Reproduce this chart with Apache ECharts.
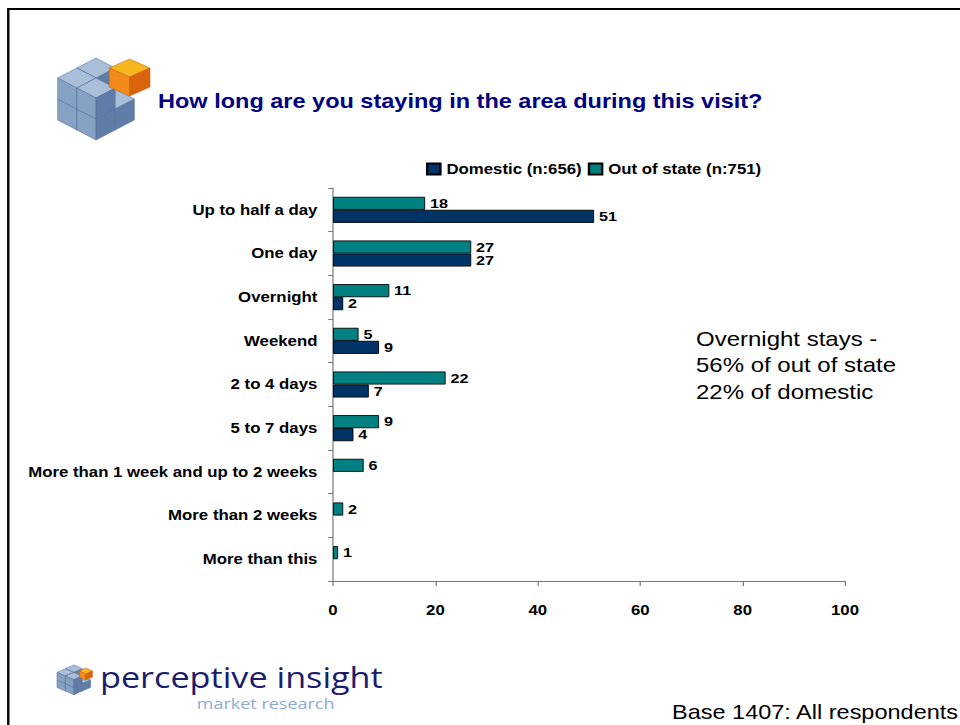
<!DOCTYPE html>
<html>
<head>
<meta charset="utf-8">
<script src="https://cdn.jsdelivr.net/npm/echarts@6/dist/echarts.min.js"></script>
<style>
html,body{margin:0;padding:0;background:#fff;overflow:hidden;width:960px;height:725px;}
#wrap{position:absolute;left:0;top:0;width:800px;height:725px;transform:scaleX(1.2);transform-origin:0 0;}
#chart{width:800px;height:725px;}
</style>
</head>
<body>
<div id="wrap"><div id="chart"></div></div>
<script>
// ---- data ----
const categories = [
  'Up to half a day',
  'One day',
  'Overnight',
  'Weekend',
  '2 to 4 days',
  '5 to 7 days',
  'More than 1 week and up to 2 weeks',
  'More than 2 weeks',
  'More than this'
];
const domestic = [51, 27, 2, 9, 7, 4, null, null, null];
const outOfState = [18, 27, 11, 5, 22, 9, 6, 2, 1];
const seriesNames = ['Domestic (n:656)', 'Out of state (n:751)'];
const xMin = 0, xMax = 100, xStep = 20;
const titleText = 'How long are you staying in the area during this visit?';
const noteLines = ['Overnight stays -', '56% of out of state', '22% of domestic'];
const baseText = 'Base 1407: All respondents';
const logoMain = 'perceptive insight';
const logoSub = 'market research';

// ---- styling ----
const ARIAL = "'Liberation Sans', Arial, Helvetica, sans-serif";
const NAVY = '#003366';
const TEAL = '#008080';
const AXIS = '#777777';

const blueCol = {top: '#a9bed8', left: '#87a1c4', right: '#5f7da6', stroke: '#56739b'};
const orangeCol = {top: '#f7b51e', left: '#f38b1b', right: '#d9640d', stroke: '#c8600e'};

function cube(px, py, a, b, c, col) {
  const st = {stroke: col.stroke, lineWidth: 0.5};
  return [
    {type: 'polygon', shape: {points: [[px, py], [px + a, py + b], [px, py + 2 * b], [px - a, py + b]]}, style: Object.assign({fill: col.top}, st)},
    {type: 'polygon', shape: {points: [[px - a, py + b], [px, py + 2 * b], [px, py + 2 * b + c], [px - a, py + b + c]]}, style: Object.assign({fill: col.left}, st)},
    {type: 'polygon', shape: {points: [[px, py + 2 * b], [px + a, py + b], [px + a, py + b + c], [px, py + 2 * b + c]]}, style: Object.assign({fill: col.right}, st)}
  ];
}
function cluster(ox, oy, a, b, c) {
  const cells = [[0,0,0],[1,0,0],[0,1,0],[0,0,1],[1,1,0],[0,1,1],[1,1,1]];
  cells.sort((p, q) => (p[0]+p[1]+p[2]) - (q[0]+q[1]+q[2]) || p[2] - q[2]);
  let out = [];
  cells.forEach(([i, j, k]) => {
    out = out.concat(cube(ox + (i - j) * a, oy + (i + j) * b - (k + 1) * c, a, b, c, blueCol));
  });
  return out;
}

const graphics = [];
// frame
graphics.push({type: 'rect', shape: {x: 6.9, y: 9, width: 1200, height: 1200}, style: {fill: 'none', stroke: '#000', lineWidth: 2}, silent: true});
// top logo
cluster(80, 100, 16, 10, 21).forEach(g => graphics.push(g));
cube(108, 59, 17, 9, 19, orangeCol).forEach(g => graphics.push(g));
// bottom logo icon
cluster(61.5, 680, 7, 3.7, 7.5).forEach(g => graphics.push(g));
cube(71.5, 668, 5.5, 3, 6, orangeCol).forEach(g => graphics.push(g));
// title
graphics.push({type: 'text', x: 131.7, y: 101, style: {text: titleText, fontFamily: ARIAL, fontWeight: 'bold', fontSize: 19.6, fill: '#000080', textAlign: 'left', textVerticalAlign: 'middle'}});
// annotation
noteLines.forEach((t, i) => {
  graphics.push({type: 'text', x: 580, y: 339 + i * 26.5, style: {text: t, fontFamily: ARIAL, fontSize: 20, fill: '#000', textAlign: 'left', textVerticalAlign: 'middle'}});
});
// base
graphics.push({type: 'text', x: 560, y: 712, style: {text: baseText, fontFamily: ARIAL, fontSize: 19.6, lineHeight: 20, fill: '#000', textAlign: 'left', textVerticalAlign: 'middle'}});
// logo text
graphics.push({type: 'text', x: 83.3, y: 677, style: {text: logoMain, fontFamily: "'Open Sans', 'DejaVu Sans', sans-serif", fontSize: 28.5, lineHeight: 24, fill: '#1c1c6c', textAlign: 'left', textVerticalAlign: 'middle'}});
graphics.push({type: 'text', x: 164, y: 703.5, style: {text: logoSub, fontFamily: "'Open Sans', 'DejaVu Sans', sans-serif", fontSize: 15, lineHeight: 12, fill: '#8eabd3', textAlign: 'left', textVerticalAlign: 'middle'}});

const labelStyle = {show: true, position: 'right', distance: 4, color: '#000', fontFamily: ARIAL, fontWeight: 'bold', fontSize: 13.5, lineHeight: 11};

const chart = echarts.init(document.getElementById('chart'), null, {renderer: 'svg'});
chart.setOption({
  backgroundColor: '#fff',
  animation: false,
  textStyle: {fontFamily: ARIAL},
  legend: {
    data: seriesNames,
    left: 355,
    top: 162,
    padding: 0,
    itemWidth: 11,
    itemHeight: 11,
    itemGap: 5,
    icon: 'rect',
    textStyle: {color: '#000', fontFamily: ARIAL, fontWeight: 'bold', fontSize: 14}
  },
  grid: {left: 277.5, right: 95.8, top: 188, bottom: 144, containLabel: false, outerBoundsMode: 'none'},
  xAxis: {
    type: 'value',
    min: xMin, max: xMax, interval: xStep,
    axisLine: {show: true, lineStyle: {color: AXIS, width: 1}},
    axisTick: {show: true, length: 5, lineStyle: {color: AXIS}},
    splitLine: {show: false},
    axisLabel: {margin: 22, color: '#000', fontFamily: ARIAL, fontWeight: 'bold', fontSize: 14}
  },
  yAxis: {
    type: 'category',
    data: categories,
    inverse: true,
    axisLine: {show: true, lineStyle: {color: AXIS, width: 1}},
    axisTick: {show: true, length: 4, lineStyle: {color: AXIS}},
    axisLabel: {margin: 13, color: '#000', fontFamily: ARIAL, fontWeight: 'bold', fontSize: 14}
  },
  series: [
    {
      name: seriesNames[1], type: 'bar', data: outOfState,
      barWidth: 13, barGap: '0%',
      itemStyle: {color: TEAL, borderColor: '#000', borderWidth: 0.8},
      label: labelStyle
    },
    {
      name: seriesNames[0], type: 'bar', data: domestic,
      barWidth: 13, barGap: '0%',
      itemStyle: {color: NAVY, borderColor: '#000', borderWidth: 0.8},
      label: labelStyle
    }
  ],
  graphic: graphics
});
</script>
</body>
</html>
